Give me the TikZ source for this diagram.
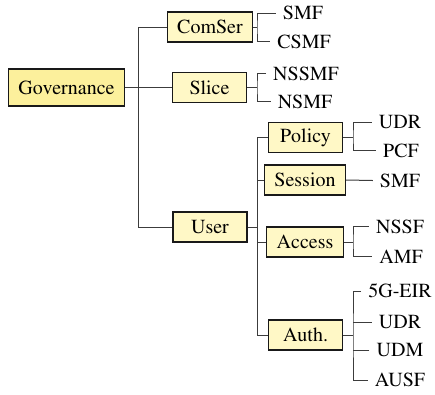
\documentclass[tikz,border=0pt]{standalone}
\usepackage[T1]{fontenc}
\usepackage{times}
\definecolor{govfill}{HTML}{FCF09C}
\definecolor{boxfill}{HTML}{FFF8C6}
\definecolor{lncol}{HTML}{3C3C3C}
\begin{document}
\begin{tikzpicture}[x=1pt,y=-1pt,
  every node/.style={font=\rmfamily\fontsize{20}{24}\selectfont},
  box/.style={draw=black!90, line width=1.3pt, fill=boxfill, minimum width=74pt, minimum height=30pt, inner xsep=10pt, inner ysep=2pt},
  govbox/.style={box, fill=govfill, minimum height=37pt},
  leaf/.style={inner xsep=7pt, inner ysep=1pt},
  conn/.style={draw=lncol, line width=1pt}]
\useasboundingbox (0,0) rectangle (435,394);
% boxes
\node[govbox] (gov) at (66.5,87.5) {Governance};
\node[box] (comser) at (210,27) {ComSer};
\node[box] (slice) at (209.5,87.5) {Slice};
\node[box] (user) at (210,227) {User};
\node[box] (policy) at (305.5,137.5) {Policy};
\node[box] (session) at (305,180) {Session};
\node[box] (access) at (305,242) {Access};
\node[box] (auth) at (305.5,335) {Auth.};
% leaves level 1
\node[leaf] (smfa) at (303,13) {SMF};
\node[leaf] (csmf) at (304,41.5) {CSMF};
\node[leaf] (nssmf) at (306,73.5) {NSSMF};
\node[leaf] (nsmf) at (305,101.5) {NSMF};
% leaves level 2
\node[leaf] (udra) at (400,122) {UDR};
\node[leaf] (pcf) at (401,150.5) {PCF};
\node[leaf] (smfb) at (400,180.5) {SMF};
\node[leaf] (nssf) at (400,226.5) {NSSF};
\node[leaf] (amf) at (401,256.5) {AMF};
\node[leaf] (eir) at (400,291) {5G-EIR};
\node[leaf] (udrb) at (400,322) {UDR};
\node[leaf] (udm) at (400,350.5) {UDM};
\node[leaf] (ausf) at (400,380) {AUSF};
% trunk coordinates
\coordinate (g) at (138,0);
\coordinate (b1) at (257,0);
\coordinate (b2) at (353,0);
% governance
\draw[conn] (gov.east) -- (slice.west);
\draw[conn] (comser.west) -| (g |- user) -- (user.west);
% comser bracket
\draw[conn] (comser.east) -- (comser.east -| b1);
\draw[conn] (smfa.west) -| (b1 |- comser) |- (csmf.west);
% slice bracket
\draw[conn] (slice.east) -- (slice.east -| b1);
\draw[conn] (nssmf.west) -| (b1 |- slice) |- (nsmf.west);
% user trunk
\draw[conn] (user.east) -- (user.east -| b1);
\draw[conn] (policy.west) -| (b1 |- auth) -- (auth.west);
\draw[conn] (session.west) -- (session.west -| b1);
\draw[conn] (access.west) -- (access.west -| b1);
% policy bracket
\draw[conn] (policy.east) -- (policy.east -| b2);
\draw[conn] (udra.west) -| (b2 |- policy) |- (pcf.west);
% session
\draw[conn] (session.east) -- (smfb.west);
% access bracket
\draw[conn] (access.east) -- (access.east -| b2);
\draw[conn] (nssf.west) -| (b2 |- access) |- (amf.west);
% auth bracket
\draw[conn] (auth.east) -- (auth.east -| b2);
\draw[conn] (eir.west) -| (b2 |- auth) |- (ausf.west);
\draw[conn] (udrb.west) -- (udrb.west -| b2);
\draw[conn] (udm.west) -- (udm.west -| b2);
\end{tikzpicture}
\end{document}
